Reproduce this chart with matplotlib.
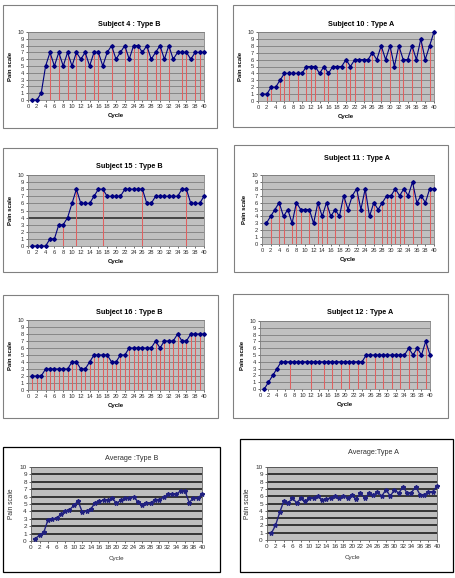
import matplotlib
matplotlib.use("Agg")
import matplotlib.pyplot as plt
from matplotlib.patches import Rectangle

plt.rcParams['font.family'] = ['Liberation Sans', 'DejaVu Sans']

cycles = list(range(1, 41))
xticks = list(range(0, 41, 2))
yticks = list(range(0, 11))

s4_pain = [0, 0, 1, 5, 7, 5, 7, 5, 7, 5, 7, 6, 7, 5, 7, 7, 5, 7, 8, 6,
           7, 8, 6, 8, 8, 7, 8, 6, 7, 8, 6, 8, 6, 7, 7, 7, 6, 7, 7, 7]
s4_marked = [5, 7, 9, 11, 13, 15, 16, 19, 22, 24, 25, 27, 29, 30, 32, 35, 36, 38, 39]

s10_pain = [1, 1, 2, 2, 3, 4, 4, 4, 4, 4, 5, 5, 5, 4, 5, 4, 5, 5, 5, 6,
            5, 6, 6, 6, 6, 7, 6, 8, 6, 8, 5, 8, 6, 6, 8, 6, 9, 6, 8, 10]
s10_marked = [2, 3, 5, 6, 7, 9, 11, 12, 13, 15, 16, 18, 20, 21, 22, 24, 26, 28,
              30, 32, 33, 35, 37, 39]

s15_pain = [0, 0, 0, 0, 1, 1, 3, 3, 4, 6, 8, 6, 6, 6, 7, 8, 8, 7, 7, 7,
            7, 8, 8, 8, 8, 8, 6, 6, 7, 7, 7, 7, 7, 7, 8, 8, 6, 6, 6, 7]
s15_marked = [8, 11, 17, 26, 36]

s11_pain = [3, 4, 5, 6, 4, 5, 3, 6, 5, 5, 5, 3, 6, 4, 6, 4, 5, 4, 7, 5,
            7, 8, 5, 8, 4, 6, 5, 6, 7, 7, 8, 7, 8, 7, 9, 6, 7, 6, 8, 8]
s11_marked = [2, 4, 5, 7, 8, 9, 11, 13, 14, 15, 17, 19, 22, 24, 26, 28, 29, 30,
              31, 32, 33, 35, 37, 39]

s16_pain = [2, 2, 2, 3, 3, 3, 3, 3, 3, 4, 4, 3, 3, 4, 5, 5, 5, 5, 4, 4,
            5, 5, 6, 6, 6, 6, 6, 6, 7, 6, 7, 7, 7, 8, 7, 7, 8, 8, 8, 8]
s16_marked = list(range(1, 41))

s12_pain = [0, 1, 2, 3, 4, 4, 4, 4, 4, 4, 4, 4, 4, 4, 4, 4, 4, 4, 4, 4,
            4, 4, 4, 4, 5, 5, 5, 5, 5, 5, 5, 5, 5, 5, 6, 5, 6, 5, 7, 5]
s12_marked = [7, 12, 15, 17, 19, 21, 23, 25, 27, 29, 31, 33, 35, 37, 39]

avgB_pain = [0.3, 0.8, 1.2, 2.9, 3.0, 3.1, 3.6, 4.0, 4.2, 4.8, 5.4, 3.9, 4.1, 4.3,
             5.2, 5.4, 5.5, 5.5, 5.8, 5.1, 5.5, 5.8, 5.8, 6.0, 5.3, 4.9, 5.2, 5.1,
             5.6, 5.6, 5.9, 6.3, 6.3, 6.3, 6.8, 6.8, 5.2, 5.8, 5.8, 6.3]

avgA_pain = [0.9, 2.0, 3.8, 5.4, 5.1, 5.7, 5.1, 5.7, 5.3, 5.8, 5.7, 6.0, 5.5, 5.6,
             5.8, 6.0, 5.7, 6.0, 5.8, 6.1, 5.6, 6.5, 5.7, 6.4, 6.1, 6.6, 6.0, 6.9,
             6.0, 6.9, 6.4, 7.3, 6.4, 6.5, 7.3, 6.2, 6.2, 6.6, 6.6, 7.4]

W, H = 456, 578
fig = plt.figure(figsize=(W / 100, H / 100), dpi=100)
fig.patch.set_facecolor('white')


def frame(x1, y1, x2, y2, color='#808080', lw=0.8):
    fig.patches.append(Rectangle((x1 / W, 1 - y2 / H), (x2 - x1) / W, (y2 - y1) / H,
                                 transform=fig.transFigure, fill=False,
                                 edgecolor=color, linewidth=lw))


def axes_px(x1, y1, x2, y2):
    return fig.add_axes([x1 / W, 1 - y2 / H, (x2 - x1) / W, (y2 - y1) / H])


def subject_panel(box, area, title, title_xy, pain, marked, thick4=False):
    frame(*box)
    ax = axes_px(*area)
    ax.set_facecolor('#C0C0C0')
    ax.set_xlim(0, 40)
    ax.set_ylim(0, 10)
    for y in yticks[1:]:
        ax.axhline(y, color='#303030' if (thick4 and y == 4) else '#707070',
                   lw=1.2 if (thick4 and y == 4) else 0.5, zorder=1)
    for c in marked:
        ax.plot([c, c], [0, pain[c - 1]], color='#E06060', lw=0.75, zorder=2)
    ax.plot(cycles, pain, color='#000080', lw=0.8, marker='D', ms=1.9,
            mfc='#000080', mec='#000080', zorder=3, clip_on=False)
    ax.set_xticks(xticks)
    ax.set_yticks(yticks)
    ax.tick_params(labelsize=4.2, length=1.5, width=0.5, pad=1.5, colors='#303030')
    for s in ax.spines.values():
        s.set_color('#808080')
        s.set_linewidth(0.6)
    ax.set_xlabel('Cycle', fontsize=4.3, fontweight='bold', labelpad=3)
    ax.set_ylabel('Pain scale', fontsize=4.3, fontweight='bold', labelpad=3)
    fig.text(title_xy[0] / W, 1 - title_xy[1] / H, title, ha='center', va='center',
             fontsize=5.2, fontweight='bold')
    return ax


subject_panel((3, 5, 217, 128), (28, 32, 204, 100), 'Subject 4 : Type B', (129, 24),
              s4_pain, s4_marked)
subject_panel((233, 5, 455, 127), (258, 32, 434, 101), 'Subject 10 : Type A', (361, 24),
              s10_pain, s10_marked)
subject_panel((3, 148, 217, 272), (28, 175, 204, 246), 'Subject 15 : Type B', (129, 167),
              s15_pain, s15_marked, thick4=True)
subject_panel((234, 145, 448, 272), (262, 175, 434, 244), 'Subject 11 : Type A', (357, 158),
              s11_pain, s11_marked)
subject_panel((3, 295, 218, 418), (28, 320, 204, 390), 'Subject 16 : Type B', (129, 313),
              s16_pain, s16_marked)
subject_panel((233, 294, 448, 418), (260, 321, 430, 389), 'Subject 12 : Type A', (360, 313),
              s12_pain, s12_marked)


def average_panel(box, area, title, title_xy, pain):
    frame(*box, color='black', lw=0.9)
    ax = axes_px(*area)
    ax.set_facecolor('#BEBEBE')
    ax.set_xlim(0, 40)
    ax.set_ylim(0, 10)
    for y in yticks[1:]:
        ax.axhline(y, color='#101010', lw=1.1, zorder=1)
    ax.plot(cycles, pain, color='#202080', lw=1.0, marker='*', ms=3.2,
            mfc='#202080', mec='#202080', zorder=3, clip_on=False)
    ax.set_xticks(xticks)
    ax.set_yticks(yticks)
    ax.tick_params(labelsize=4.6, length=1.5, width=0.5, pad=1.5, colors='#303030')
    for s in ax.spines.values():
        s.set_color('#606060')
        s.set_linewidth(0.6)
    ax.set_xlabel('Cycle', fontsize=4.5, labelpad=4, color='#303030')
    ax.set_ylabel('Pain scale', fontsize=4.8, labelpad=3, color='#303030')
    fig.text(title_xy[0] / W, 1 - title_xy[1] / H, title, ha='center', va='center',
             fontsize=5.2, color='#303030')
    return ax


average_panel((3, 447, 220, 572), (31, 467, 202, 541), 'Average :Type B', (132, 458), avgB_pain)
average_panel((240, 439, 453, 572), (267, 467, 437, 540), 'Average:Type A', (374, 453), avgA_pain)

fig.savefig('out.png', dpi=100)
